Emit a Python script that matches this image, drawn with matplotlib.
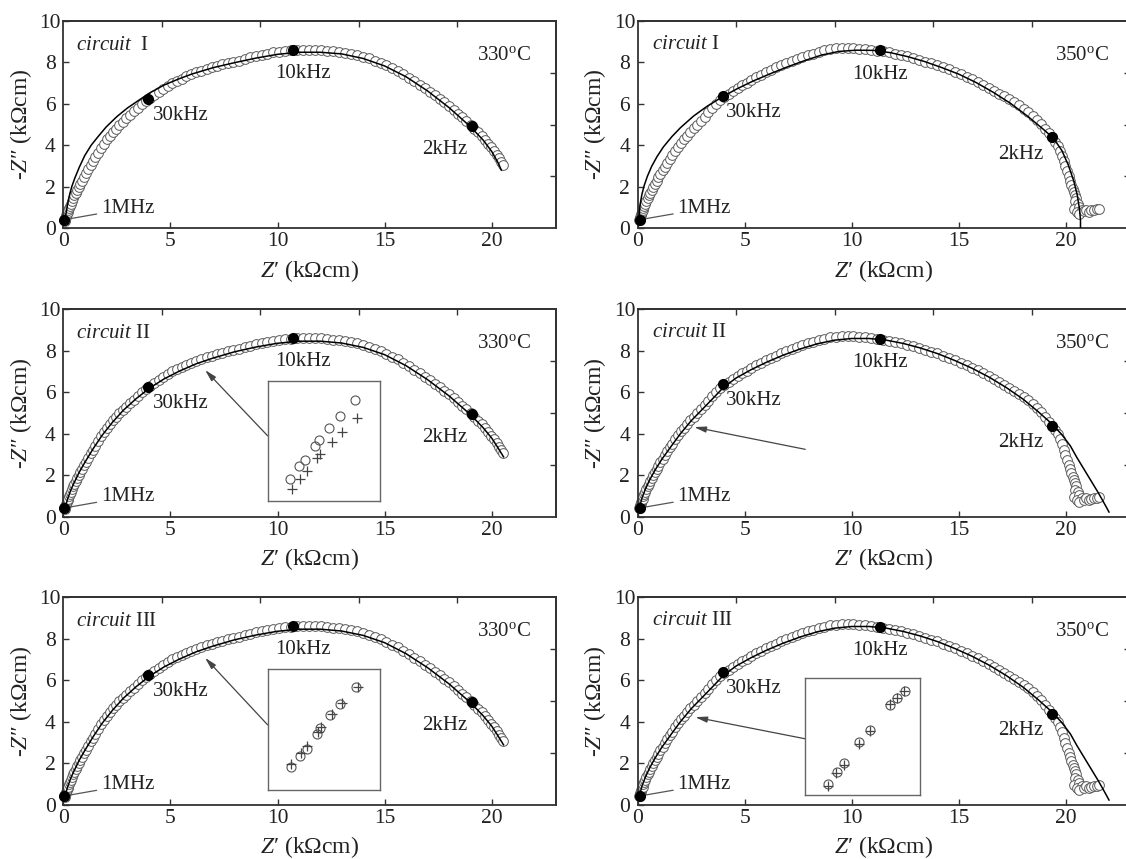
import matplotlib
matplotlib.use("Agg")
import matplotlib.pyplot as plt

plt.rcParams["font.family"] = ["Liberation Serif", "DejaVu Serif"]
plt.rcParams["mathtext.fontset"] = "custom"
plt.rcParams["mathtext.rm"] = "Liberation Serif"
plt.rcParams["mathtext.it"] = "Liberation Serif:italic"

INK = "#222222"

# ---- measured spectrum, 330 C (Z', -Z'' in kOhm cm)
z330_re = [0.06, 0.08, 0.10, 0.12, 0.14, 0.17, 0.20, 0.23, 0.27, 0.31,
           0.35, 0.40, 0.46, 0.52, 0.58, 0.65, 0.72, 0.80, 0.88, 0.97,
           1.06, 1.16, 1.27, 1.38, 1.50, 1.62, 1.75, 1.88, 2.02, 2.16,
           2.31, 2.46, 2.62, 2.78, 2.95, 3.12, 3.30, 3.48, 3.67, 3.86,
           4.05, 4.25, 4.45, 4.66, 4.87, 5.08, 5.30, 5.52, 5.75, 5.98,
           6.21, 6.45, 6.69, 6.93, 7.18, 7.43, 7.68, 7.94, 8.20, 8.46,
           8.72, 8.99, 9.26, 9.53, 9.80, 10.07, 10.35, 10.62, 10.90, 11.18,
           11.46, 11.74, 12.02, 12.30, 12.58, 12.86, 13.14, 13.42, 13.70, 13.98,
           14.26, 14.54, 14.81, 15.08, 15.35, 15.61, 15.87, 16.13, 16.38, 16.63,
           16.87, 17.11, 17.34, 17.57, 17.79, 18.01, 18.22, 18.43, 18.63, 18.82,
           19.01, 19.19, 19.36, 19.53, 19.69, 19.84, 19.98, 20.11, 20.23, 20.34,
           20.44, 20.53]
z330_im = [0.35, 0.42, 0.50, 0.56, 0.62, 0.70, 0.78, 0.86, 0.97, 1.08,
           1.19, 1.32, 1.45, 1.58, 1.70, 1.84, 1.98, 2.14, 2.30, 2.47,
           2.64, 2.84, 3.04, 3.22, 3.42, 3.64, 3.87, 4.08, 4.28, 4.45,
           4.63, 4.80, 4.97, 5.13, 5.30, 5.46, 5.64, 5.81, 5.98, 6.14,
           6.28, 6.43, 6.58, 6.72, 6.86, 6.99, 7.10, 7.21, 7.32, 7.42,
           7.51, 7.60, 7.68, 7.76, 7.83, 7.90, 7.96, 8.02, 8.08, 8.16,
           8.23, 8.30, 8.36, 8.42, 8.47, 8.51, 8.54, 8.57, 8.59, 8.60,
           8.60, 8.60, 8.58, 8.56, 8.53, 8.50, 8.46, 8.41, 8.35, 8.27,
           8.18, 8.08, 7.97, 7.85, 7.71, 7.57, 7.41, 7.25, 7.08, 6.91,
           6.74, 6.58, 6.41, 6.24, 6.06, 5.89, 5.71, 5.52, 5.34, 5.16,
           4.98, 4.80, 4.62, 4.44, 4.26, 4.08, 3.90, 3.72, 3.54, 3.37,
           3.20, 3.04]

# ---- measured spectrum, 350 C
z350_re = [0.08, 0.10, 0.12, 0.14, 0.17, 0.20, 0.23, 0.27, 0.31, 0.35,
           0.40, 0.46, 0.52, 0.58, 0.65, 0.72, 0.80, 0.88, 0.97, 1.06,
           1.16, 1.27, 1.38, 1.50, 1.62, 1.75, 1.88, 2.02, 2.16, 2.31,
           2.46, 2.62, 2.78, 2.95, 3.12, 3.30, 3.48, 3.67, 3.86, 4.05,
           4.25, 4.45, 4.66, 4.87, 5.08, 5.30, 5.52, 5.75, 5.98, 6.21,
           6.45, 6.69, 6.93, 7.18, 7.43, 7.68, 7.94, 8.20, 8.46, 8.72,
           8.99, 9.26, 9.53, 9.80, 10.07, 10.35, 10.62, 10.90, 11.18, 11.46,
           11.74, 12.02, 12.30, 12.58, 12.86, 13.14, 13.42, 13.70, 13.98, 14.26,
           14.54, 14.81, 15.08, 15.35, 15.61, 15.87, 16.13, 16.38, 16.63, 16.87,
           17.11, 17.34, 17.57, 17.79, 18.01, 18.22, 18.43, 18.63, 18.82, 19.01,
           19.19, 19.36, 19.50, 19.62, 19.72, 19.81, 19.89, 19.97, 20.05, 20.12,
           20.18, 20.24, 20.30, 20.36, 20.42, 20.48, 20.40, 20.55, 20.35, 20.62,
           20.50, 20.72, 20.62, 20.85, 20.95, 21.05, 21.18, 21.30, 21.42, 21.55]
z350_im = [0.40, 0.50, 0.56, 0.62, 0.70, 0.78, 0.86, 0.97, 1.08, 1.19,
           1.32, 1.46, 1.59, 1.72, 1.86, 2.00, 2.15, 2.30, 2.46, 2.62,
           2.79, 2.97, 3.15, 3.34, 3.52, 3.72, 3.92, 4.10, 4.28, 4.46,
           4.63, 4.82, 5.00, 5.19, 5.37, 5.58, 5.79, 6.00, 6.18, 6.34,
           6.48, 6.62, 6.76, 6.90, 7.02, 7.15, 7.28, 7.40, 7.52, 7.63,
           7.75, 7.86, 7.96, 8.06, 8.16, 8.25, 8.34, 8.42, 8.50, 8.57,
           8.63, 8.67, 8.69, 8.69, 8.68, 8.66, 8.63, 8.60, 8.56, 8.52,
           8.47, 8.41, 8.35, 8.28, 8.20, 8.12, 8.03, 7.94, 7.86, 7.76,
           7.66, 7.54, 7.42, 7.30, 7.17, 7.04, 6.90, 6.77, 6.63, 6.49,
           6.35, 6.21, 6.06, 5.92, 5.77, 5.60, 5.42, 5.22, 5.02, 4.80,
           4.58, 4.38, 4.15, 3.96, 3.72, 3.48, 3.22, 2.98, 2.74, 2.50,
           2.28, 2.08, 1.90, 1.74, 1.60, 1.46, 1.30, 1.18, 0.95, 1.05,
           0.78, 0.90, 0.68, 0.82, 0.88, 0.78, 0.86, 0.90, 0.92, 0.95]

# ---- fitted curves
fit330_1_re = [0.06, 0.10, 0.15, 0.20, 0.30, 0.40, 0.55, 0.75, 1.00, 1.30,
               1.65, 2.00, 2.50, 3.00, 3.50, 4.00, 4.70, 5.40, 6.00, 7.00,
               8.00, 9.00, 10.00, 11.00, 12.00, 13.00, 14.00, 15.00, 16.00, 17.00,
               18.00, 19.00, 19.60, 20.00, 20.30, 20.45]
fit330_1_im = [0.30, 0.55, 0.85, 1.15, 1.65, 2.02, 2.45, 2.95, 3.50, 4.00,
               4.45, 4.88, 5.38, 5.80, 6.15, 6.50, 6.90, 7.20, 7.43, 7.74,
               7.98, 8.20, 8.38, 8.48, 8.48, 8.40, 8.18, 7.82, 7.30, 6.62,
               5.82, 4.90, 4.25, 3.70, 3.15, 2.80]
fit330_2_re = [0.06, 0.10, 0.20, 0.35, 0.50, 0.75, 1.00, 1.40, 1.80, 2.30,
               2.80, 3.40, 4.00, 4.70, 5.40, 6.20, 7.00, 8.00, 9.00, 10.00,
               11.00, 12.00, 13.00, 14.00, 15.00, 16.00, 17.00, 18.00, 19.00,
               19.60, 20.00, 20.30, 20.55]
fit330_2_im = [0.30, 0.48, 0.85, 1.28, 1.62, 2.15, 2.60, 3.28, 3.90, 4.55,
               5.12, 5.68, 6.17, 6.63, 7.00, 7.36, 7.64, 7.94, 8.17, 8.35,
               8.45, 8.45, 8.36, 8.15, 7.80, 7.27, 6.60, 5.82, 4.92,
               4.28, 3.78, 3.30, 2.88]
fit350_1_re = [0.08, 0.08, 0.12, 0.20, 0.30, 0.45, 0.65, 0.90, 1.20, 1.60,
               2.00, 2.60, 3.20, 3.90, 4.60, 5.40, 6.20, 7.00, 7.80, 8.60,
               9.40, 10.20, 11.00, 11.80, 12.60, 13.40, 14.20, 15.00, 15.80, 16.60,
               17.40, 18.20, 18.90, 19.40, 19.80, 20.10, 20.35, 20.52, 20.62, 20.67, 20.67]
fit350_1_im = [0.30, 0.80, 1.20, 1.65, 2.05, 2.50, 2.98, 3.45, 3.92, 4.42,
               4.85, 5.40, 5.85, 6.30, 6.70, 7.10, 7.45, 7.78, 8.08, 8.35,
               8.52, 8.58, 8.57, 8.46, 8.27, 8.03, 7.74, 7.42, 7.02, 6.55,
               6.02, 5.40, 4.80, 4.35, 3.75, 3.05, 2.30, 1.60, 0.95, 0.40, 0.00]
fit350_2_re = [0.08, 0.10, 0.20, 0.35, 0.55, 0.80, 1.10, 1.50, 2.00, 2.50,
               3.00, 3.50, 4.00, 4.60, 5.30, 6.00, 6.80, 7.60, 8.40, 9.20,
               10.00, 10.80, 11.60, 12.40, 13.20, 14.00, 14.80, 15.60, 16.40, 17.20,
               18.00, 18.70, 19.30, 19.80, 20.20, 20.50, 21.00, 21.50, 21.80, 22.00]
fit350_2_im = [0.35, 0.50, 0.90, 1.30, 1.75, 2.22, 2.72, 3.30, 4.00, 4.62,
               5.15, 5.68, 6.22, 6.68, 7.08, 7.43, 7.78, 8.08, 8.33, 8.50,
               8.58, 8.58, 8.50, 8.34, 8.12, 7.85, 7.52, 7.15, 6.72, 6.22,
               5.65, 5.05, 4.50, 3.95, 3.40, 2.85, 2.00, 1.15, 0.60, 0.22]

# ---- frequency markers
freq_labels = ["1MHz", "30kHz", "10kHz", "2kHz"]
f330_re = [0.05, 3.97, 10.70, 19.07]
f330_im = [0.40, 6.22, 8.58, 4.95]
f350_re = [0.10, 4.00, 11.29, 19.36]
f350_im = [0.40, 6.37, 8.57, 4.38]

# ---- zoomed insets (measured = circles, fit = crosses)
ins330_2_re = [6.20, 6.28, 6.33, 6.42, 6.46, 6.55, 6.65, 6.78]
ins330_2_im = [6.78, 6.89, 6.94, 7.06, 7.11, 7.21, 7.31, 7.44]
ins330_2_fre = [6.22, 6.29, 6.35, 6.44, 6.47, 6.57, 6.66, 6.80]
ins330_2_fim = [6.70, 6.78, 6.85, 6.96, 6.99, 7.09, 7.17, 7.29]
ins330_3_re = [6.21, 6.29, 6.35, 6.44, 6.47, 6.56, 6.65, 6.79]
ins330_3_im = [6.79, 6.88, 6.94, 7.06, 7.11, 7.22, 7.31, 7.45]
ins330_3_fre = [6.21, 6.30, 6.35, 6.45, 6.48, 6.57, 6.66, 6.81]
ins330_3_fim = [6.81, 6.90, 6.96, 7.08, 7.12, 7.23, 7.32, 7.45]
ins350_3_re = [2.40, 2.48, 2.54, 2.67, 2.76, 2.94, 3.00, 3.07]
ins350_3_im = [3.89, 4.00, 4.07, 4.25, 4.36, 4.57, 4.63, 4.69]
ins350_3_fre = [2.40, 2.47, 2.54, 2.67, 2.76, 2.94, 3.00, 3.06]
ins350_3_fim = [3.88, 3.99, 4.06, 4.24, 4.35, 4.58, 4.63, 4.69]

FIG_W, FIG_H = 1126, 859
COL_X = [63.3, 637.7]
ROW_TOP = [20.7, 309.0, 597.0]
AX_W, AX_H = 492.7, 207.6


def style_axes(ax):
    ax.set_xlim(0, 23)
    ax.set_ylim(0, 10)
    ax.set_xticks([0, 5, 10, 15, 20])
    ax.set_yticks([0, 2, 4, 6, 8, 10])
    ax.tick_params(direction="in", length=4, width=1, color="#333",
                   labelsize=15.5, labelcolor=INK)
    ax.tick_params(axis="x", pad=3)
    ax.tick_params(axis="y", pad=9.5)
    for t in ax.get_yticklabels():
        t.set_horizontalalignment("center")
    for s in ax.spines.values():
        s.set_linewidth(1.3)
        s.set_color("#333")
    top = ax.secondary_xaxis("top")
    top.set_xticks([4.6, 9.2, 13.8, 18.4])
    top.tick_params(direction="in", length=4, width=1, color="#333", labeltop=False)
    top.spines["top"].set_linewidth(1.3)
    top.spines["top"].set_color("#333")
    right = ax.secondary_yaxis("right")
    right.set_yticks([2.5, 5.0, 7.5])
    right.tick_params(direction="in", length=4, width=1, color="#333", labelright=False)
    right.spines["right"].set_linewidth(1.3)
    right.spines["right"].set_color("#333")
    ax.set_xlabel("$Z$′ (kΩcm)", fontsize=17, color=INK)
    ax.set_ylabel("-$Z$″ (kΩcm)", fontsize=17, color=INK)
    ax.xaxis.set_label_coords(0.5, -0.143)
    ax.yaxis.set_label_coords(-0.060, 0.5)


def draw_spectrum(ax, zr, zi, fr, fi, dr, di):
    ax.plot(zr, zi, "o", ms=7, mfc="white", mec="#5a5a5a", mew=0.7,
            clip_on=False, zorder=2)
    ax.plot(fr, fi, "-", color="black", lw=1.1, zorder=3)
    ax.plot(dr, di, "o", ms=7, color="black", clip_on=False, zorder=4)


def label_panel(ax, col, circuit, temp, dr, di):
    tk = dict(fontsize=15, color=INK)
    if col == 0:
        ax.text(0.6, 8.8, circuit, ha="left", va="center", **tk)
        ax.text(21.85, 8.33, temp, ha="right", va="center", **tk)
        ax.text(4.2, 5.45, freq_labels[1], ha="left", va="center", **tk)
        ax.text(11.2, 7.45, freq_labels[2], ha="center", va="center", **tk)
        ax.text(17.8, 3.8, freq_labels[3], ha="center", va="center", **tk)
        tx = 1.75
    else:
        ax.text(0.67, 8.85, circuit, ha="left", va="center", **tk)
        ax.text(22.0, 8.33, temp, ha="right", va="center", **tk)
        ax.text(4.1, 5.6, freq_labels[1], ha="left", va="center", **tk)
        ax.text(11.3, 7.4, freq_labels[2], ha="center", va="center", **tk)
        ax.text(17.9, 3.55, freq_labels[3], ha="center", va="center", **tk)
        tx = 1.85
    ax.annotate(freq_labels[0], xy=(dr[0] + 0.2, di[0] + 0.05), xytext=(tx, 0.95),
                ha="left", va="center", fontsize=15, color=INK,
                arrowprops=dict(arrowstyle="-", color="#555", lw=0.9,
                                shrinkA=1, shrinkB=0))


def add_inset(ax, box, lims, cr, ci, pr, pi, start, tip):
    ins = ax.inset_axes(box, transform=ax.transData)
    ins.set_xlim(*lims[0])
    ins.set_ylim(*lims[1])
    ins.set_xticks([])
    ins.set_yticks([])
    for s in ins.spines.values():
        s.set_color("#666")
        s.set_linewidth(1.0)
    ins.plot(cr, ci, "o", ms=6.5, mfc="none", mec="#555", mew=0.8)
    ins.plot(pr, pi, "+", ms=7, color="#444", mew=0.9)
    add_arrow(ax, start, tip)


def add_arrow(ax, start, tip):
    ax.annotate("", xy=tip, xytext=start,
                arrowprops=dict(arrowstyle="-|>,head_length=0.7,head_width=0.18",
                                color="#444", lw=0.9, shrinkA=0, shrinkB=0))


fig = plt.figure(figsize=(FIG_W / 100, FIG_H / 100), dpi=100, facecolor="white")

panels = [
    (0, 0, r"$\mathit{circuit}$  I", fit330_1_re, fit330_1_im),
    (0, 1, r"$\mathit{circuit}$ I", fit350_1_re, fit350_1_im),
    (1, 0, r"$\mathit{circuit}$ II", fit330_2_re, fit330_2_im),
    (1, 1, r"$\mathit{circuit}$ II", fit350_2_re, fit350_2_im),
    (2, 0, r"$\mathit{circuit}$ III", fit330_2_re, fit330_2_im),
    (2, 1, r"$\mathit{circuit}$ III", fit350_2_re, fit350_2_im),
]

axes = {}
for row, col, circuit, fr, fi in panels:
    left = COL_X[col] / FIG_W
    bottom = 1 - (ROW_TOP[row] + AX_H) / FIG_H
    ax = fig.add_axes([left, bottom, AX_W / FIG_W, AX_H / FIG_H])
    style_axes(ax)
    if col == 0:
        draw_spectrum(ax, z330_re, z330_im, fr, fi, f330_re, f330_im)
        label_panel(ax, col, circuit, "330$^\\mathrm{o}$C", f330_re, f330_im)
    else:
        draw_spectrum(ax, z350_re, z350_im, fr, fi, f350_re, f350_im)
        label_panel(ax, col, circuit, "350$^\\mathrm{o}$C", f350_re, f350_im)
    axes[(row, col)] = ax

add_inset(axes[(1, 0)], [9.54, 0.76, 5.23, 5.78], ((6.0, 7.0), (6.6, 7.6)),
          ins330_2_re, ins330_2_im, ins330_2_fre, ins330_2_fim,
          (9.54, 3.89), (6.62, 7.06))
add_inset(axes[(2, 0)], [9.54, 0.72, 5.23, 5.81], ((6.0, 7.0), (6.6, 7.6)),
          ins330_3_re, ins330_3_im, ins330_3_fre, ins330_3_fim,
          (9.54, 3.84), (6.62, 7.07))
add_arrow(axes[(1, 1)], (7.82, 3.24), (2.64, 4.31))
add_inset(axes[(2, 1)], [7.82, 0.47, 5.37, 5.62], ((2.2, 3.2), (3.8, 4.8)),
          ins350_3_re, ins350_3_im, ins350_3_fre, ins350_3_fim,
          (7.82, 3.17), (2.69, 4.21))

fig.savefig("out.png", dpi=100, facecolor="white")
